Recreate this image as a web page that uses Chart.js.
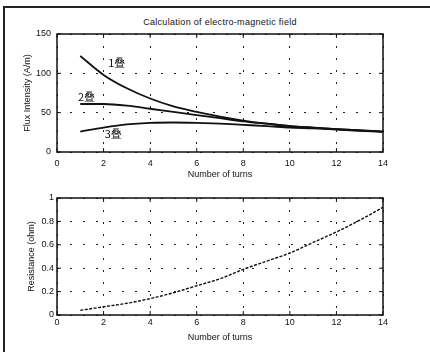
<!DOCTYPE html>
<html>
<head>
<meta charset="utf-8">
<script src="https://cdn.jsdelivr.net/npm/chart.js@4.4.1/dist/chart.umd.min.js"></script>
<style>
  html, body { margin: 0; padding: 0; }
  body { width: 430px; height: 352px; overflow: hidden; position: relative; background: #fff; font-family: "Liberation Sans", Arial, sans-serif; }
  .rule { position: absolute; background: #222; }
  #title { position: absolute; left: 0; top: 16px; width: 440px; text-align: center; font-size: 9px; line-height: 12px; color: #111; letter-spacing: 0.3px; }
  .box { position: absolute; left: 0; width: 430px; }
</style>
</head>
<body>
<div class="rule" style="left:3px;top:6px;width:2px;height:346px"></div>
<div class="rule" style="left:3px;top:6px;width:427px;height:2px"></div>
<div id="title">Calculation of electro-magnetic field</div>
<div class="box" style="top:0;height:186px"><canvas id="fluxChart" width="430" height="186"></canvas></div>
<div class="box" style="top:186px;height:166px"><canvas id="resChart" width="430" height="166"></canvas></div>
<script>
const turns = [1, 2, 3, 4, 5, 6, 7, 8, 9, 10, 11, 12, 13, 14];
const layer1 = [122, 98, 81, 68, 58, 51, 45, 40, 36, 33, 31, 29, 27.5, 26];
const layer2 = [61, 61, 59, 55, 51, 47, 43, 39, 36, 33, 31, 29, 27.5, 26];
const layer3 = [26, 31, 35, 37, 37.5, 37, 36, 34.5, 33, 31, 30, 28.5, 27, 25.5];
const resistance = [0.04, 0.07, 0.10, 0.14, 0.19, 0.25, 0.31, 0.39, 0.46, 0.53, 0.62, 0.71, 0.81, 0.92];

const turnTicks = [0, 2, 4, 6, 8, 10, 12, 14];
const fluxTicks = [0, 50, 100, 150];
const resTicks = [0, 0.2, 0.4, 0.6, 0.8, 1];

const layerNames = ['1叠', '2叠', '3叠'];
// where the curve names sit, in data units
const labelSpots = [{ x: 2.2, y: 114 }, { x: 0.9, y: 70 }, { x: 2.05, y: 23 }];

Chart.defaults.font.family = '"Liberation Sans", Arial, sans-serif';
Chart.defaults.font.size = 9;
Chart.defaults.color = '#111';
Chart.defaults.animation = false;

const pts = ys => turns.map((t, i) => ({ x: t, y: ys[i] }));

// solid frame round the plot plus inward tick marks (matlab style)
const boxPlugin = {
    id: 'box',
    afterDatasetsDraw(chart) {
        const { ctx, chartArea: a, scales: { x, y } } = chart;
        ctx.save();
        ctx.strokeStyle = '#111';
        ctx.lineWidth = 1.5;
        ctx.strokeRect(a.left, a.top, a.right - a.left, a.bottom - a.top);
        ctx.lineWidth = 1;
        ctx.beginPath();
        x.ticks.forEach(t => {
            const px = x.getPixelForValue(t.value);
            ctx.moveTo(px, a.top); ctx.lineTo(px, a.top + 4);
            ctx.moveTo(px, a.bottom); ctx.lineTo(px, a.bottom - 4);
        });
        y.ticks.forEach(t => {
            const py = y.getPixelForValue(t.value);
            ctx.moveTo(a.left, py); ctx.lineTo(a.left + 4, py);
            ctx.moveTo(a.right, py); ctx.lineTo(a.right - 4, py);
        });
        ctx.stroke();
        ctx.restore();
    }
};

const namePlugin = {
    id: 'names',
    afterDatasetsDraw(chart) {
        const { ctx, scales: { x, y } } = chart;
        ctx.save();
        ctx.fillStyle = '#111';
        ctx.font = '11px "Noto Sans CJK SC", sans-serif';
        ctx.textBaseline = 'middle';
        layerNames.forEach((name, i) => {
            ctx.fillText(name, x.getPixelForValue(labelSpots[i].x), y.getPixelForValue(labelSpots[i].y));
        });
        ctx.restore();
    }
};

function xAxis(tickPad, h) {
    return {
        type: 'linear', min: 0, max: 14,
        afterBuildTicks: s => { s.ticks = turnTicks.map(v => ({ value: v })); },
        afterFit: s => { s.height = h; },
        grid: { color: '#222', lineWidth: 1, drawTicks: false },
        border: { display: false, dash: [2, 10] },
        ticks: { padding: tickPad, maxRotation: 0 },
        title: { display: true, text: 'Number of turns', padding: 0 }
    };
}

function yAxis(title, tickVals, max, tickPad, titlePad) {
    return {
        type: 'linear', min: 0, max: max,
        afterBuildTicks: s => { s.ticks = tickVals.map(v => ({ value: v })); },
        afterFit: s => { s.width = 39; },
        grid: { color: '#222', lineWidth: 1, drawTicks: false },
        border: { display: false, dash: [2, 11] },
        ticks: { padding: tickPad, callback: v => String(v) },
        title: { display: true, text: title, padding: { top: titlePad, bottom: 0 } }
    };
}

const lineStyle = { borderColor: '#111', borderWidth: 1.8, pointRadius: 0, fill: false, cubicInterpolationMode: 'monotone' };

new Chart(document.getElementById('fluxChart'), {
    type: 'line',
    data: {
        datasets: [layer1, layer2, layer3].map((ys, i) => ({ label: layerNames[i], data: pts(ys), ...lineStyle }))
    },
    options: {
        responsive: false,
        layout: { padding: { left: 18, right: 47, top: 34, bottom: 6 } },
        plugins: { legend: { display: false }, tooltip: { enabled: false } },
        scales: {
            x: xAxis(6, 28),
            y: yAxis('Flux Intensity (A/m)', fluxTicks, 150, 6, 4)
        }
    },
    plugins: [boxPlugin, namePlugin]
});

new Chart(document.getElementById('resChart'), {
    type: 'line',
    data: {
        datasets: [{ label: 'Resistance', data: pts(resistance), ...lineStyle, borderWidth: 1.4, borderDash: [3, 1.5] }]
    },
    options: {
        responsive: false,
        layout: { padding: { left: 18, right: 47, top: 12, bottom: 9 } },
        plugins: { legend: { display: false }, tooltip: { enabled: false } },
        scales: {
            x: xAxis(2, 28),
            y: yAxis('Resistance (ohm)', resTicks, 1, 3, 8.6)
        }
    },
    plugins: [boxPlugin]
});
</script>
</body>
</html>
